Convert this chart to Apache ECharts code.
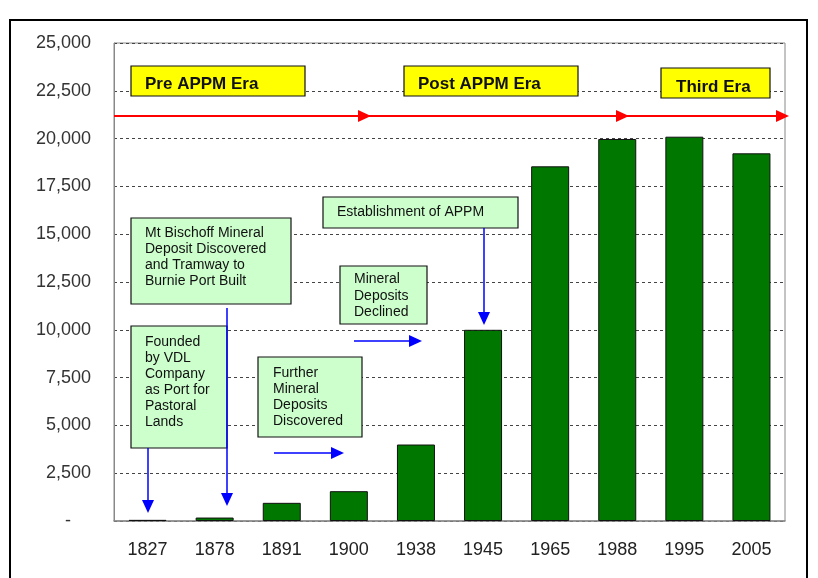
<!DOCTYPE html>
<html>
<head>
<meta charset="utf-8">
<script src="https://cdn.jsdelivr.net/npm/echarts@6/dist/echarts.min.js"></script>
<style>
html,body{margin:0;padding:0;background:#fff;}
#main{width:818px;height:578px;}
</style>
</head>
<body>
<div id="main"></div>
<script>
// data
let years = ['1827', '1878', '1891', '1900', '1938', '1945', '1965', '1988', '1995', '2005'];
let population = [60, 180, 950, 1560, 4000, 10000, 18550, 19980, 20100, 19230];
let yMin = 0;
let yMax = 25000;
let yStep = 2500;
let eraLabels = ['Pre APPM Era', 'Post APPM Era', 'Third Era'];
let notes = [
  'Mt Bischoff Mineral\nDeposit Discovered\nand Tramway to\nBurnie Port Built',
  'Founded\nby VDL\nCompany\nas Port for\nPastoral\nLands',
  'Further\nMineral\nDeposits\nDiscovered',
  'Mineral\nDeposits\nDeclined',
  'Establishment of APPM'
];

let font = "'Liberation Sans', Arial, sans-serif";
let Z = 100;

function box(x, y, w, h, fill, text, tx, ty, fontCss, lh) {
  return {
    type: 'group',
    z: Z,
    children: [
      { type: 'rect', z: Z, shape: { x: x, y: y, width: w, height: h },
        style: { fill: fill, stroke: '#111', lineWidth: 1.2 } },
      { type: 'text', z: Z + 1, x: tx, y: ty,
        style: { text: text, font: fontCss, fill: '#111', lineHeight: lh, verticalAlign: 'top', align: 'left' } }
    ]
  };
}
function line(x1, y1, x2, y2, color, w) {
  return { type: 'line', z: Z, shape: { x1: x1, y1: y1, x2: x2, y2: y2 }, style: { stroke: color, lineWidth: w } };
}
function head(points, color) {
  return { type: 'polygon', z: Z, shape: { points: points }, style: { fill: color } };
}

let red = '#ff0000';
let blue = '#0000ff';
let noteFont = '14px ' + font;
let eraFont = 'bold 17px ' + font;

let graphics = [
  // outer frame
  { type: 'rect', z: -10, shape: { x: 10, y: 20, width: 797, height: 600 },
    style: { fill: 'none', stroke: '#000', lineWidth: 2 } },
  // era arrow
  line(114, 116, 782, 116, red, 2),
  head([[358, 110], [371, 116], [358, 122]], red),
  head([[616, 110], [629, 116], [616, 122]], red),
  head([[776, 110], [789, 116], [776, 122]], red),
  // era boxes
  box(131, 66, 174, 30, '#ffff00', eraLabels[0], 145, 74, eraFont, 20),
  box(404, 66, 174, 30, '#ffff00', eraLabels[1], 418, 74, eraFont, 20),
  box(661, 68, 109, 30, '#ffff00', eraLabels[2], 676, 77, eraFont, 20),
  // green notes
  box(131, 218, 160, 86, '#ccffcc', notes[0], 145, 225, noteFont, 16),
  box(131, 326, 96, 122, '#ccffcc', notes[1], 145, 334, noteFont, 16),
  box(258, 357, 104, 80, '#ccffcc', notes[2], 273, 365, noteFont, 16),
  box(340, 266, 87, 58, '#ccffcc', notes[3], 354, 271, noteFont, 16.5),
  box(323, 197, 195, 31, '#ccffcc', notes[4], 337, 204, noteFont, 16),
  // blue arrows
  line(148, 448, 148, 502, blue, 1.5),
  head([[142, 500], [148, 513], [154, 500]], blue),
  line(227, 308, 227, 495, blue, 1.5),
  head([[221, 493], [227, 506], [233, 493]], blue),
  line(484, 228, 484, 314, blue, 1.5),
  head([[478, 312], [484, 325], [490, 312]], blue),
  line(274, 453, 333, 453, blue, 1.5),
  head([[331, 447], [344, 453], [331, 459]], blue),
  line(354, 341, 411, 341, blue, 1.5),
  head([[409, 335], [422, 341], [409, 347]], blue)
];

let myChart = echarts.init(document.getElementById('main'));
let option = {
  animation: false,
  textStyle: { fontFamily: font },
  grid: {
    left: 114, right: 33, top: 43, bottom: 57,
    show: true, borderColor: '#888', borderWidth: 1
  },
  xAxis: {
    type: 'category',
    data: years,
    axisTick: { show: false },
    axisLine: { lineStyle: { color: '#888', width: 1.5 } },
    axisLabel: { fontSize: 18, color: '#222', margin: 20 }
  },
  yAxis: {
    type: 'value',
    min: yMin,
    max: yMax,
    interval: yStep,
    axisLine: { show: true, lineStyle: { color: '#888' } },
    axisTick: { show: false },
    axisLabel: {
      fontSize: 18, color: '#333', margin: 23,
      formatter: function(v) {
        if (v == 0) return '-    ';
        return v.toString().replace(/\B(?=(\d{3})+(?!\d))/g, ',');
      }
    },
    splitLine: { lineStyle: { color: '#444', type: [3, 3], width: 1 } }
  },
  series: [
    {
      type: 'bar',
      data: population,
      barWidth: 38,
      itemStyle: { color: '#007800', borderColor: '#111', borderWidth: 1 }
    }
  ],
  graphic: graphics
};
myChart.setOption(option);
</script>
</body>
</html>
